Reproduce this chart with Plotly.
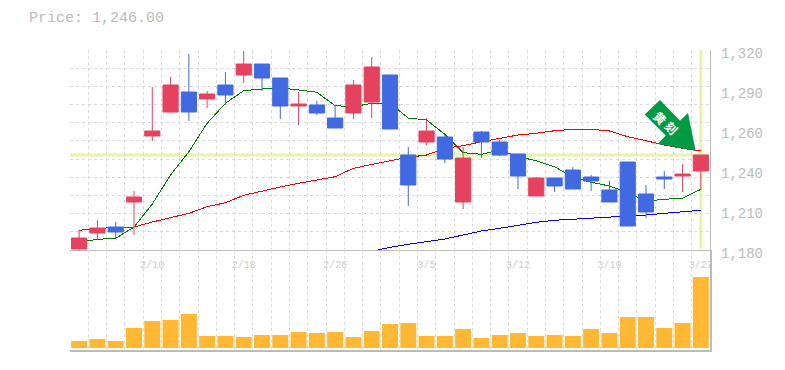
import plotly.graph_objects as go

index = list(range(35))
tick_index = [4, 9, 14, 19, 24, 29, 34]
tick_dates = ["2/10", "2/18", "2/26", "3/5", "3/12", "3/19", "3/27"]
price_ticks = [1320, 1292, 1264, 1236, 1208, 1180]
price_labels = ["1,320", "1,290", "1,260", "1,240", "1,210", "1,180"]

opens = [1180.7, 1191.9, 1196.1, 1213.6, 1259.8, 1276.6, 1290.6, 1285.7, 1295.5, 1302.5, 1310.2, 1300.4,
         1280.8, 1281.5, 1272.4, 1275.9, 1283.6, 1302.5, 1246.5, 1255.6, 1259.1, 1213.6, 1262.6, 1255.6,
         1247.2, 1217.8, 1230.4, 1236.0, 1231.1, 1222.0, 1241.6, 1219.2, 1231.1, 1231.8, 1235.3]
highs = [1194.0, 1201.0, 1199.6, 1221.3, 1294.1, 1301.1, 1317.2, 1291.3, 1304.6, 1319.3, 1310.2, 1300.4,
         1290.6, 1284.3, 1281.5, 1299.0, 1315.1, 1302.5, 1252.1, 1272.4, 1260.5, 1252.1, 1263.3, 1257.0,
         1247.2, 1231.1, 1230.4, 1238.1, 1232.5, 1228.3, 1241.6, 1225.5, 1235.3, 1240.2, 1246.5]
lows = [1179.5, 1187.5, 1188.4, 1190.5, 1256.3, 1275.9, 1270.3, 1279.4, 1281.5, 1296.9, 1291.3, 1271.7,
        1267.5, 1274.5, 1265.4, 1271.7, 1272.4, 1264.7, 1210.8, 1253.5, 1240.9, 1208.7, 1244.4, 1245.8,
        1222.7, 1217.8, 1220.6, 1222.7, 1221.3, 1213.6, 1196.8, 1202.4, 1222.7, 1220.6, 1222.0]
closes = [1188.4, 1195.4, 1192.6, 1217.1, 1263.3, 1295.5, 1276.6, 1289.2, 1288.5, 1310.2, 1300.4, 1280.8,
          1282.2, 1275.9, 1265.4, 1295.5, 1308.1, 1264.7, 1225.5, 1263.3, 1243.7, 1244.4, 1255.6, 1246.5,
          1231.8, 1230.4, 1224.8, 1222.7, 1228.3, 1213.6, 1196.8, 1206.6, 1229.7, 1233.2, 1246.5]

ma_short = [1185.4, 1187.5, 1188.2, 1196.1, 1212.2, 1232.5, 1248.8, 1268.7, 1282.7, 1291.5, 1292.7, 1293.4,
            1292.0, 1290.4, 1281.0, 1280.3, 1282.7, 1282.7, 1272.4, 1271.0, 1261.0, 1248.1, 1247.0, 1250.0,
            1245.3, 1242.5, 1238.3, 1230.9, 1227.4, 1224.8, 1220.1, 1214.3, 1215.5, 1216.2, 1222.5]
ma_mid = [1193.8, 1195.2, 1195.6, 1196.1, 1199.6, 1202.6, 1205.7, 1210.3, 1213.1, 1218.3, 1221.3, 1224.1,
          1226.7, 1229.0, 1231.3, 1237.2, 1240.0, 1242.5, 1244.9, 1246.5, 1251.2, 1253.0, 1255.8, 1258.2,
          1260.5, 1261.7, 1263.5, 1264.5, 1264.5, 1263.3, 1259.3, 1256.5, 1253.5, 1251.2, 1249.3]
ma_long = [None] * 16 + [1179.1, 1181.9, 1184.0, 1186.1, 1187.7, 1190.5, 1193.3, 1195.2, 1197.3, 1199.4,
                         1200.8, 1201.5, 1202.4, 1202.9, 1203.6, 1204.5, 1205.7, 1206.6, 1207.8]
volume = [7, 9, 7, 20, 27, 28, 34, 12, 12, 11, 13, 13, 16, 15, 16, 11, 17, 24,
          25, 12, 12, 19, 10, 13, 15, 12, 13, 12, 19, 15, 31, 31, 20, 25, 71]
last_price = 1246.5
price_text = "Price: 1,246.00"

FONT = "Liberation Mono"
GRID = "#dadada"
DASH = "3px,3px"
AXIS = "#bbbbbb"
UP = "#e5425f"
DOWN = "#4169e1"
MARK = "#e6f5a8"
XR = [-0.5, 34.5]
YR = [1180, 1320]

fig = go.Figure()
for vals, col in [(ma_short, "#008000"), (ma_mid, "#ff0000"), (ma_long, "#0000ff")]:
    fig.add_trace(go.Scatter(x=index, y=vals, mode="lines", line=dict(color=col, width=1),
                             hoverinfo="skip", showlegend=False, xaxis="x", yaxis="y"))
fig.add_trace(go.Candlestick(x=index, open=opens, high=highs, low=lows, close=closes,
                             increasing=dict(line=dict(color=UP, width=1), fillcolor=UP),
                             decreasing=dict(line=dict(color=DOWN, width=1), fillcolor=DOWN),
                             whiskerwidth=0, showlegend=False, xaxis="x", yaxis="y3"))
fig.add_trace(go.Bar(x=index, y=volume, marker=dict(color="#ffb833", line=dict(width=0)),
                     width=0.875, showlegend=False, xaxis="x2", yaxis="y2"))

minor_x = dict(tickmode="linear", tick0=-0.5, dtick=1, showgrid=True, gridcolor=GRID, griddash=DASH,
               gridwidth=1, ticklen=0)
fig.update_layout(
    width=785, height=370, autosize=False,
    margin=dict(l=70, r=75, t=50, b=20, autoexpand=False),
    paper_bgcolor="white", plot_bgcolor="white",
    font=dict(family=FONT, color=AXIS),
    boxgap=0.17, boxgroupgap=0, bargap=0.125, showlegend=False,
    title=dict(text=price_text, x=29 / 785, xref="container", xanchor="left",
               y=1 - 17 / 370, yref="container", yanchor="middle",
               font=dict(family=FONT, size=15, color=AXIS)),
    xaxis=dict(domain=[0, 1], range=XR, anchor="y", showgrid=False, zeroline=False, showline=True,
               linecolor=AXIS, linewidth=1, tickmode="array", tickvals=tick_index, ticktext=tick_dates,
               tickfont=dict(family=FONT, size=10, color="#cccccc"), ticks="", minor=minor_x,
               rangeslider=dict(visible=False), ticklabelstandoff=5, automargin=False),
    xaxis2=dict(domain=[0, 1], range=XR, anchor="y2", showgrid=False, zeroline=False, showline=True,
                linecolor=AXIS, linewidth=2, showticklabels=False, ticks="", minor=minor_x,
                rangeslider=dict(visible=False), automargin=False),
    yaxis=dict(domain=[1 / 3, 1], range=YR, anchor="x", side="right", showline=True, linecolor=AXIS,
               linewidth=1, zeroline=False, showgrid=False, tickmode="array", tickvals=price_ticks,
               ticktext=[""] * 6, ticks="", automargin=False,
               minor=dict(tickmode="linear", tick0=1180, dtick=140 / 11, showgrid=True, gridcolor=GRID,
                          griddash=DASH, gridwidth=1, ticklen=0)),
    yaxis3=dict(range=YR, overlaying="y", anchor="x", side="right", showgrid=False, zeroline=False,
                showline=False, tickmode="array", tickvals=price_ticks, ticktext=price_labels, ticks="",
                automargin=False,
                tickfont=dict(family=FONT, size=14, color=AXIS), ticklabelstandoff=10, ticklabelshift=3),
    yaxis2=dict(domain=[0, 1 / 3], range=[-2, 98], anchor="x2", side="right", showline=True, automargin=False,
                linecolor=AXIS, linewidth=2, zeroline=False, showgrid=False, showticklabels=False, ticks=""),
    shapes=[
        dict(type="line", xref="x", yref="y", x0=XR[0], x1=XR[1], y0=last_price, y1=last_price,
             line=dict(color=MARK, width=3), layer="below"),
        dict(type="line", xref="x", yref="y", x0=index[-1], x1=index[-1], y0=YR[0] + 1, y1=YR[1],
             line=dict(color=MARK, width=3), layer="below"),
        dict(type="path", xref="paper", yref="paper",
             path="M %f %f L %f %f L %f %f L %f %f L %f %f L %f %f L %f %f Z" % tuple(
                 v for p in [(660, 100), (644.7, 114.5), (665.7, 135.5), (657.7, 144), (695.7, 150.7),
                             (688, 113), (680, 120.7)]
                 for v in ((p[0] - 70) / 640, 1 - (p[1] - 50) / 300)),
             fillcolor="#009a44", line=dict(width=0), layer="above"),
    ],
    annotations=[
        dict(text="<b>\u9ec4</b>", xref="paper", yref="paper", x=(660.5 - 70) / 640, y=1 - (117 - 50) / 300, textangle=45,
             xanchor="center", yanchor="middle", showarrow=False,
             font=dict(family="Noto Sans CJK JP", size=12, color="#ffffff")),
        dict(text="<b>\u523b</b>", xref="paper", yref="paper", x=(672 - 70) / 640, y=1 - (127.5 - 50) / 300, textangle=45,
             xanchor="center", yanchor="middle", showarrow=False,
             font=dict(family="Noto Sans CJK JP", size=12, color="#ffffff")),
    ],
)
fig.write_html("out.html", config=dict(displayModeBar=False),
               post_script="document.body.style.margin='0';"
                           "document.querySelectorAll('.scatterlayer path.js-line')"
                           ".forEach(function(p){p.style.shapeRendering='crispEdges';});")
